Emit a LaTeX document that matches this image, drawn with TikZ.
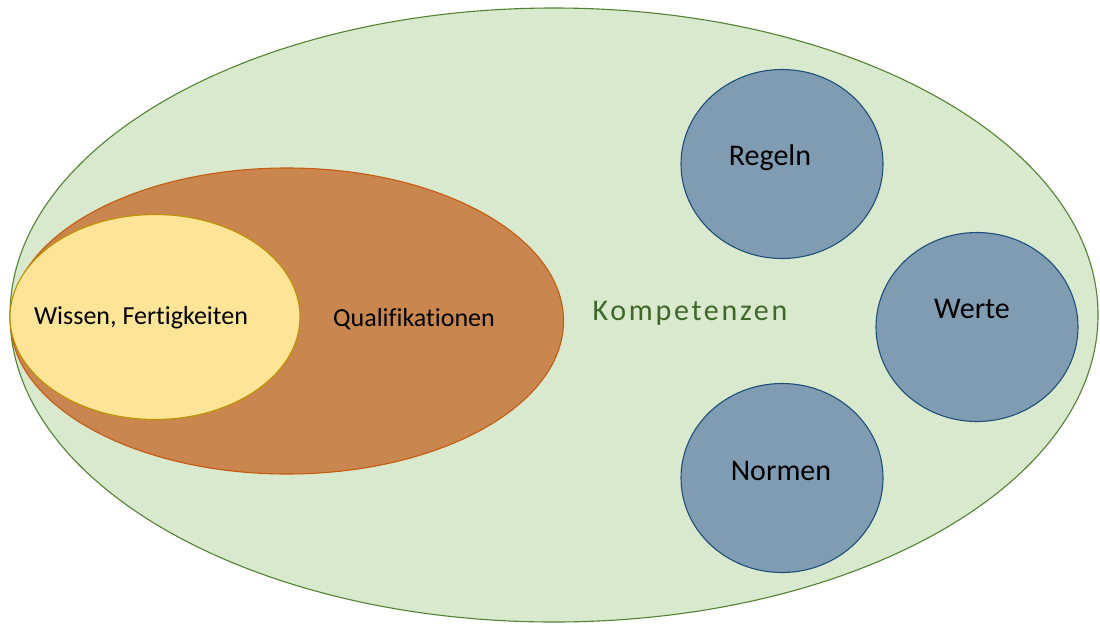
\documentclass[tikz,border=0pt]{standalone}
\usepackage{fontspec}
\setmainfont{Carlito}[Ligatures={NoCommon}]
\usetikzlibrary{shapes.geometric}
\definecolor{gfill}{RGB}{216,233,206}
\definecolor{gline}{RGB}{84,130,53}
\definecolor{ofill}{RGB}{201,135,79}
\definecolor{oline}{RGB}{197,90,17}
\definecolor{yfill}{RGB}{254,228,150}
\definecolor{yline}{RGB}{191,144,0}
\definecolor{bfill}{RGB}{128,156,178}
\definecolor{bline}{RGB}{31,78,121}
\definecolor{ktext}{RGB}{62,104,40}
\tikzset{
  blob/.style={ellipse, inner sep=0pt, line width=1.1pt},
  bluecircle/.style={blob, draw=bline, fill=bfill, minimum width=202pt, minimum height=189pt},
  lbl/.style={inner sep=0pt, font=\fontsize{30}{36}\selectfont, text=black},
  smalllbl/.style={inner sep=0pt, font=\fontsize{26}{31}\selectfont, text=black}
}
\begin{document}
\begin{tikzpicture}[x=1pt,y=-1pt]
\useasboundingbox (0,0) rectangle (1100,624);
\node[blob, draw=gline, fill=gfill, minimum width=1088pt, minimum height=614pt] (komp) at (554,315) {};
\node[blob, draw=oline, fill=ofill, minimum width=553pt, minimum height=306pt] (qual) at (287,321) {};
\node[blob, draw=yline, fill=yfill, minimum width=290pt, minimum height=205pt] (wiss) at (155,317) {};
\node[bluecircle] (regeln) at (782,164) {};
\node[bluecircle] (werte) at (977,327) {};
\node[bluecircle] (normen) at (782,478) {};
\node[smalllbl] (wisst) at (141,318) {Wissen, Fertigkeiten};
\node[smalllbl] (qualt) at (414,319) {Qualifikationen};
\node[inner sep=0pt, text=ktext, font=\fontsize{30}{36}\selectfont\addfontfeatures{LetterSpace=9}] (kompt) at (690,313) {Kompetenzen};
\node[lbl] (regelnt) at (770,158) {Regeln};
\node[lbl] (wertet) at (972,309) {Werte};
\node[lbl] (normentt) at (781,471) {Normen};
\end{tikzpicture}
\end{document}
